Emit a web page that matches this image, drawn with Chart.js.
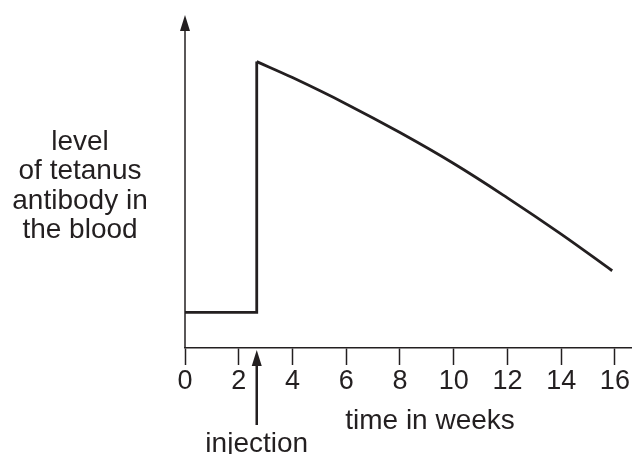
<!DOCTYPE html>
<html>
<head>
<meta charset="utf-8">
<script src="https://cdn.jsdelivr.net/npm/chart.js@4/dist/chart.umd.min.js"></script>
<style>
  html, body { margin: 0; padding: 0; background: #fff; }
  #wrap { width: 632px; height: 454px; }
</style>
</head>
<body>
<div id="wrap"><canvas id="antibodyChart"></canvas></div>
<script>
// values (y is an arbitrary level, 0-100)
const stepWeeks = [0, 2.67, 2.67];
const stepLevel = [10.7, 10.7, 86];
const curveWeeks = [2.67, 4, 6, 8, 10, 12, 14, 15.9];
const curveLevel = [86, 81.2, 73.3, 64.7, 55.4, 45.1, 34.2, 23.2];
const tickWeeks = [0, 2, 4, 6, 8, 10, 12, 14, 16];
const yLabelLines = ["level", "of tetanus", "antibody in", "the blood"];
const injectionWeek = 2.67;

const ink = "#231f20";
const font = "'Liberation Sans', Arial, sans-serif";

const toPoints = (xs, ys) => xs.map((x, i) => ({ x: x, y: ys[i] }));

const annotations = {
  id: "annotations",
  afterDraw(chart) {
    const ctx = chart.ctx;
    const area = chart.chartArea;
    const xs = chart.scales.x;
    ctx.save();
    ctx.fillStyle = ink;
    ctx.strokeStyle = ink;

    // y axis with arrow head
    ctx.lineWidth = 1.5;
    ctx.beginPath();
    ctx.moveTo(area.left, area.bottom);
    ctx.lineTo(area.left, area.top + 12);
    ctx.stroke();
    ctx.beginPath();
    ctx.moveTo(area.left, area.top);
    ctx.lineTo(area.left - 5, area.top + 16);
    ctx.lineTo(area.left + 5, area.top + 16);
    ctx.closePath();
    ctx.fill();

    // injection arrow
    const ix = xs.getPixelForValue(injectionWeek);
    ctx.lineWidth = 2.5;
    ctx.beginPath();
    ctx.moveTo(ix, area.bottom + 77);
    ctx.lineTo(ix, area.bottom + 14);
    ctx.stroke();
    ctx.beginPath();
    ctx.moveTo(ix, area.bottom + 2);
    ctx.lineTo(ix - 5, area.bottom + 18);
    ctx.lineTo(ix + 5, area.bottom + 18);
    ctx.closePath();
    ctx.fill();

    ctx.textAlign = "center";
    ctx.textBaseline = "middle";
    ctx.font = "28px " + font;
    ctx.fillText("injection", ix, area.bottom + 96);
    ctx.fillText("time in weeks", xs.getPixelForValue(9.12), area.bottom + 73);

    ctx.font = "28px " + font;
    yLabelLines.forEach((line, i) => {
      ctx.fillText(line, 80, 142 + i * 29.5);
    });
    ctx.restore();
  },
};

new Chart(document.getElementById("antibodyChart"), {
  type: "line",
  data: {
    datasets: [
      {
        data: toPoints(stepWeeks, stepLevel),
        borderColor: ink,
        borderWidth: 2.8,
        pointRadius: 0,
        tension: 0,
      },
      {
        data: toPoints(curveWeeks, curveLevel),
        borderColor: ink,
        borderWidth: 2.8,
        pointRadius: 0,
        tension: 0.4,
      },
    ],
  },
  options: {
    responsive: true,
    maintainAspectRatio: false,
    animation: false,
    layout: { padding: { left: 185, top: 15, right: 1, bottom: 0 } },
    plugins: {
      legend: { display: false },
      tooltip: { enabled: false },
    },
    scales: {
      x: {
        type: "linear",
        min: 0,
        max: 16.6,
        afterBuildTicks: (scale) => {
          scale.ticks = tickWeeks.map((v) => ({ value: v }));
        },
        afterFit: (scale) => {
          scale.height = 106;
        },
        border: { display: true, color: ink, width: 1.5 },
        grid: {
          display: true,
          drawOnChartArea: false,
          drawTicks: true,
          tickLength: 17,
          tickColor: ink,
          tickWidth: 1.5,
        },
        ticks: {
          color: ink,
          padding: 0,
          maxRotation: 0,
          autoSkip: false,
          font: { family: font, size: 27 },
        },
      },
      y: {
        display: false,
        min: 0,
        max: 100,
      },
    },
  },
  plugins: [annotations],
});
</script>
</body>
</html>
